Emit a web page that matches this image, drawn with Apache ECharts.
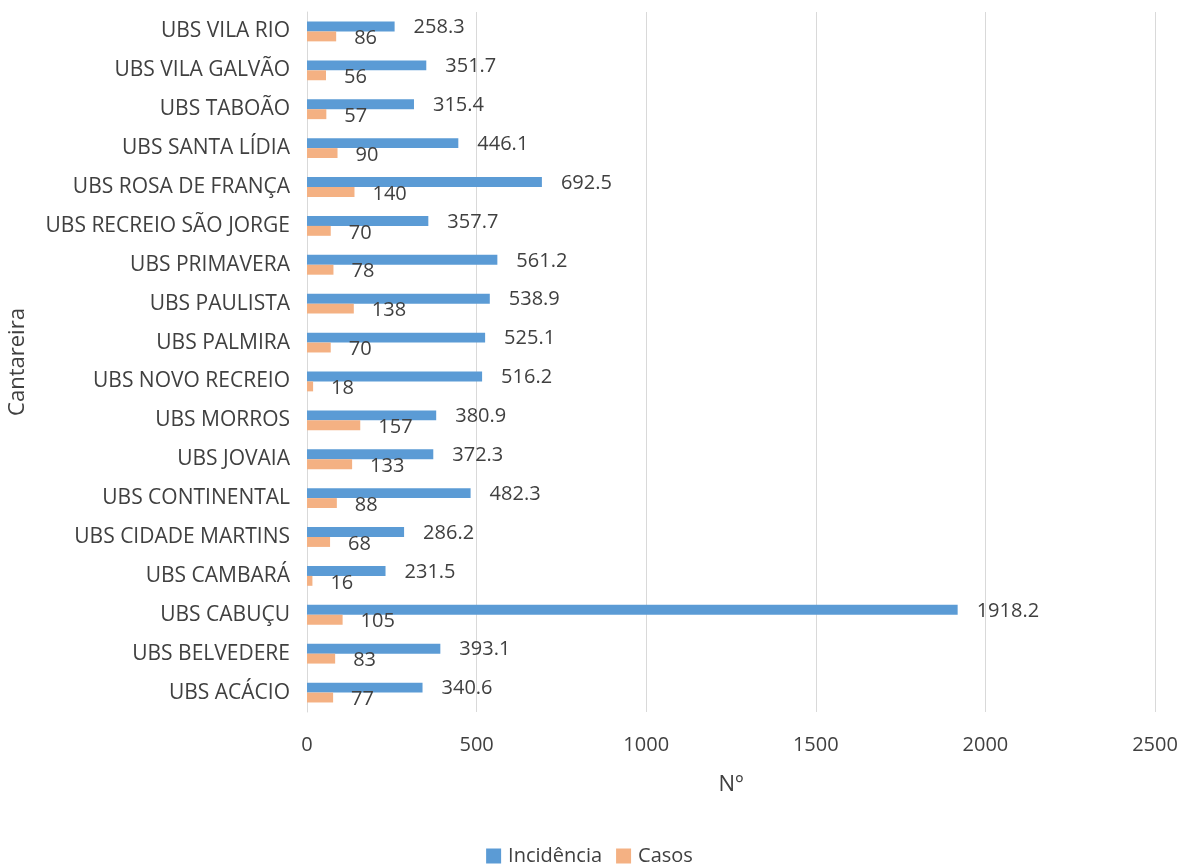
<!DOCTYPE html>
<html>
<head>
<meta charset="utf-8">
<script src="https://cdn.jsdelivr.net/npm/echarts@6/dist/echarts.min.js"></script>
<style>
  html, body { margin: 0; padding: 0; background: #fff; }
  #chart { width: 1179px; height: 866px; }
</style>
</head>
<body>
<div id="chart"></div>
<script>
// unidades (de cima para baixo)
var categories = ['UBS VILA RIO', 'UBS VILA GALVÃO', 'UBS TABOÃO', 'UBS SANTA LÍDIA', 'UBS ROSA DE FRANÇA',
    'UBS RECREIO SÃO JORGE', 'UBS PRIMAVERA', 'UBS PAULISTA', 'UBS PALMIRA', 'UBS NOVO RECREIO',
    'UBS MORROS', 'UBS JOVAIA', 'UBS CONTINENTAL', 'UBS CIDADE MARTINS', 'UBS CAMBARÁ',
    'UBS CABUÇU', 'UBS BELVEDERE', 'UBS ACÁCIO'];
var incidencia = [258.3, 351.7, 315.4, 446.1, 692.5, 357.7, 561.2, 538.9, 525.1, 516.2,
    380.9, 372.3, 482.3, 286.2, 231.5, 1918.2, 393.1, 340.6];
var casos = [86, 56, 57, 90, 140, 70, 78, 138, 70, 18, 157, 133, 88, 68, 16, 105, 83, 77];
var xTicks = [0, 500, 1000, 1500, 2000, 2500];

var txt = '#404040';
var fam = '"Open Sans", sans-serif';

var chart = echarts.init(document.getElementById('chart'));
chart.setOption({
    animation: false,
    textStyle: { fontFamily: fam, color: txt },
    grid: { left: 307, right: 24, top: 12, height: 700, containLabel: false, outerBoundsMode: 'none' },
    legend: {
        top: 841, left: 'center', itemWidth: 15, itemHeight: 15, itemGap: 14,
        icon: 'rect',
        textStyle: { fontSize: 20, color: txt, fontFamily: fam, padding: [0, 0, 0, 2] },
        data: ['Incidência', 'Casos']
    },
    xAxis: {
        type: 'value', min: xTicks[0], max: xTicks[xTicks.length - 1], interval: 500,
        name: 'Nº', nameLocation: 'middle', nameGap: 62,
        nameTextStyle: { fontSize: 22, color: txt },
        axisLine: { show: false }, axisTick: { show: false },
        axisLabel: { fontSize: 20, color: txt, margin: 23, formatter: function (v) { return String(v); } },
        splitLine: { lineStyle: { color: '#d9d9d9', width: 1 } }
    },
    yAxis: {
        type: 'category', inverse: true, data: categories,
        name: 'Cantareira', nameLocation: 'middle', nameGap: 278, nameRotate: 90,
        nameTextStyle: { fontSize: 22, color: txt },
        axisLine: { lineStyle: { color: '#d9d9d9' } }, axisTick: { show: false },
        axisLabel: { fontSize: 21, color: txt, margin: 17 }
    },
    series: [
        {
            name: 'Incidência', type: 'bar', data: incidencia,
            barGap: '0%', barCategoryGap: '49%',
            itemStyle: { color: '#5b9bd5' },
            label: { show: true, position: 'right', distance: 19, fontSize: 20, color: txt, offset: [0, 1] }
        },
        {
            name: 'Casos', type: 'bar', data: casos,
            itemStyle: { color: '#f4b183' },
            label: { show: true, position: 'right', distance: 18, fontSize: 20, color: txt, offset: [0, 2] }
        }
    ]
});
</script>
</body>
</html>
